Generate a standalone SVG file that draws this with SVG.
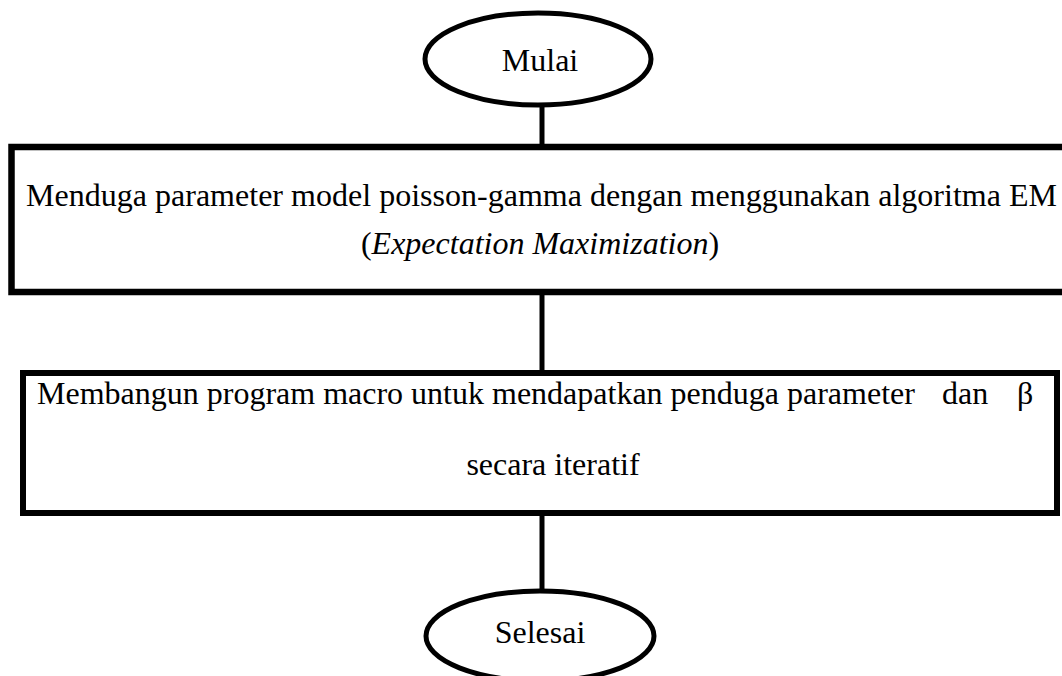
<svg xmlns="http://www.w3.org/2000/svg" width="1062" height="676" viewBox="0 0 1062 676">
<style>
.shape{fill:#fff;stroke:#000;stroke-width:6}
.conn{stroke:#000;stroke-width:5;fill:none}
.t{font-family:"Liberation Serif","Times New Roman",serif;font-size:32px;fill:#000}
.c{text-anchor:middle}
.i{font-family:"Liberation Serif","DejaVu Serif",serif;font-style:italic}
</style>
<rect width="1062" height="676" fill="#fff"/>
<g id="connectors">
<line class="conn" x1="542" y1="104" x2="542" y2="147"/>
<line class="conn" x1="542" y1="292" x2="542" y2="373"/>
<line class="conn" x1="542" y1="513" x2="542" y2="591"/>
</g>
<g id="mulai">
<ellipse class="shape" cx="538" cy="59" rx="113" ry="46" style="stroke-width:5"/>
<text class="t c" x="540" y="71">Mulai</text>
</g>
<g id="box1">
<rect class="shape" x="11.5" y="147" width="1070" height="145" style="stroke-width:6.5"/>
<text class="t" x="26" y="206" textLength="1031" lengthAdjust="spacing">Menduga parameter model poisson-gamma dengan menggunakan algoritma EM</text>
<text class="t c" x="540" y="254">(<tspan class="i">Expectation Maximization</tspan>)</text>
</g>
<g id="box2">
<rect class="shape" x="23" y="373" width="1034" height="140"/>
<text class="t" x="37" y="404">Membangun program macro untuk mendapatkan penduga parameter</text>
<text class="t" x="942" y="404">dan</text>
<text class="t" x="1017" y="404">β</text>
<text class="t c" x="553" y="475">secara iteratif</text>
</g>
<g id="selesai">
<ellipse class="shape" cx="540" cy="636" rx="114" ry="45" style="stroke-width:5"/>
<text class="t c" x="540" y="643">Selesai</text>
</g>
</svg>
